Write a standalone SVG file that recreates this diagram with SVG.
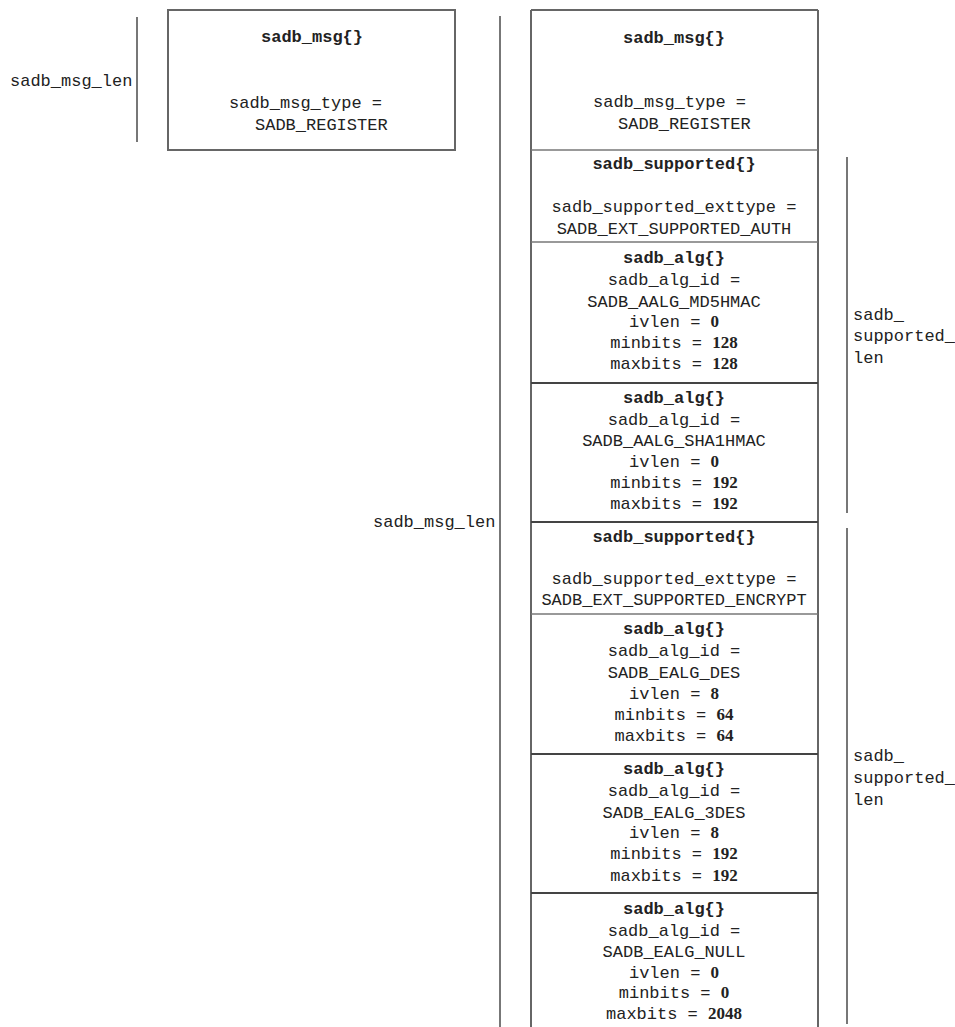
<svg xmlns="http://www.w3.org/2000/svg" width="955" height="1027" viewBox="0 0 955 1027">
<style>
text{font-family:"Liberation Mono","Courier New",monospace;font-size:17px;fill:#222;}
.c{text-anchor:middle;}
.b{font-weight:bold;}
.n{font-family:"Liberation Serif","Times New Roman",serif;font-weight:bold;font-size:17px;}
.box{fill:none;stroke:#666;stroke-width:2;}
.sep{stroke:#777;stroke-width:1.5;}
.sepd{stroke:#444;stroke-width:2;}
.brk{stroke:#777;stroke-width:2;fill:none;}
</style>
<rect width="955" height="1027" fill="#fff"/>

<g id="connectors">
<line class="brk" x1="137" y1="17" x2="137" y2="142"/>
<line class="brk" x1="500" y1="16" x2="500" y2="1027"/>
<line class="brk" x1="847" y1="157" x2="847" y2="513"/>
<line class="brk" x1="847" y1="528" x2="847" y2="1024"/>
</g>

<g id="labels">
<text x="10" y="86">sadb_msg_len</text>
<text x="373" y="527">sadb_msg_len</text>
<text x="853" y="320">sadb_</text>
<text x="853" y="341">supported_</text>
<text x="853" y="363">len</text>
<text x="853" y="761">sadb_</text>
<text x="853" y="783">supported_</text>
<text x="853" y="805">len</text>
</g>

<g id="left-msg">
<rect class="box" x="168" y="10" width="287" height="140"/>
<text class="c b" x="312" y="42">sadb_msg{}</text>
<text x="229" y="108">sadb_msg_type =</text>
<text x="255" y="130">SADB_REGISTER</text>
</g>

<g id="right-frame">
<line class="box" x1="531" y1="10" x2="818" y2="10"/>
<line class="box" x1="531" y1="10" x2="531" y2="1027"/>
<line class="box" x1="818" y1="10" x2="818" y2="1027"/>
</g>

<g id="right-msg">
<text class="c b" x="674" y="43">sadb_msg{}</text>
<text x="593" y="107">sadb_msg_type =</text>
<text x="618" y="129">SADB_REGISTER</text>
</g>

<g id="supported-auth">
<line class="sep" x1="531" y1="150" x2="818" y2="150"/>
<text class="c b" x="674" y="169">sadb_supported{}</text>
<text class="c" x="674" y="212">sadb_supported_exttype =</text>
<text class="c" x="674" y="234">SADB_EXT_SUPPORTED_AUTH</text>
</g>

<g id="alg-md5">
<line class="sep" x1="531" y1="242" x2="818" y2="242"/>
<text class="c b" x="674" y="263">sadb_alg{}</text>
<text class="c" x="674" y="285">sadb_alg_id =</text>
<text class="c" x="674" y="307">SADB_AALG_MD5HMAC</text>
<text class="c" x="674" y="327">ivlen = <tspan class="n">0</tspan></text>
<text class="c" x="674" y="348">minbits = <tspan class="n">128</tspan></text>
<text class="c" x="674" y="369">maxbits = <tspan class="n">128</tspan></text>
</g>

<g id="alg-sha1">
<line class="sepd" x1="531" y1="383" x2="818" y2="383"/>
<text class="c b" x="674" y="403">sadb_alg{}</text>
<text class="c" x="674" y="425">sadb_alg_id =</text>
<text class="c" x="674" y="446">SADB_AALG_SHA1HMAC</text>
<text class="c" x="674" y="467">ivlen = <tspan class="n">0</tspan></text>
<text class="c" x="674" y="488">minbits = <tspan class="n">192</tspan></text>
<text class="c" x="674" y="509">maxbits = <tspan class="n">192</tspan></text>
</g>

<g id="supported-encrypt">
<line class="sepd" x1="531" y1="522" x2="818" y2="522"/>
<text class="c b" x="674" y="542">sadb_supported{}</text>
<text class="c" x="674" y="584">sadb_supported_exttype =</text>
<text class="c" x="674" y="605">SADB_EXT_SUPPORTED_ENCRYPT</text>
</g>

<g id="alg-des">
<line class="sep" x1="531" y1="614" x2="818" y2="614"/>
<text class="c b" x="674" y="634">sadb_alg{}</text>
<text class="c" x="674" y="656">sadb_alg_id =</text>
<text class="c" x="674" y="678">SADB_EALG_DES</text>
<text class="c" x="674" y="699">ivlen = <tspan class="n">8</tspan></text>
<text class="c" x="674" y="720">minbits = <tspan class="n">64</tspan></text>
<text class="c" x="674" y="741">maxbits = <tspan class="n">64</tspan></text>
</g>

<g id="alg-3des">
<line class="sepd" x1="531" y1="754" x2="818" y2="754"/>
<text class="c b" x="674" y="774">sadb_alg{}</text>
<text class="c" x="674" y="796">sadb_alg_id =</text>
<text class="c" x="674" y="818">SADB_EALG_3DES</text>
<text class="c" x="674" y="838">ivlen = <tspan class="n">8</tspan></text>
<text class="c" x="674" y="859">minbits = <tspan class="n">192</tspan></text>
<text class="c" x="674" y="881">maxbits = <tspan class="n">192</tspan></text>
</g>

<g id="alg-null">
<line class="sepd" x1="531" y1="893" x2="818" y2="893"/>
<text class="c b" x="674" y="914">sadb_alg{}</text>
<text class="c" x="674" y="936">sadb_alg_id =</text>
<text class="c" x="674" y="957">SADB_EALG_NULL</text>
<text class="c" x="674" y="978">ivlen = <tspan class="n">0</tspan></text>
<text class="c" x="674" y="998">minbits = <tspan class="n">0</tspan></text>
<text class="c" x="674" y="1019">maxbits = <tspan class="n">2048</tspan></text>
</g>
</svg>
